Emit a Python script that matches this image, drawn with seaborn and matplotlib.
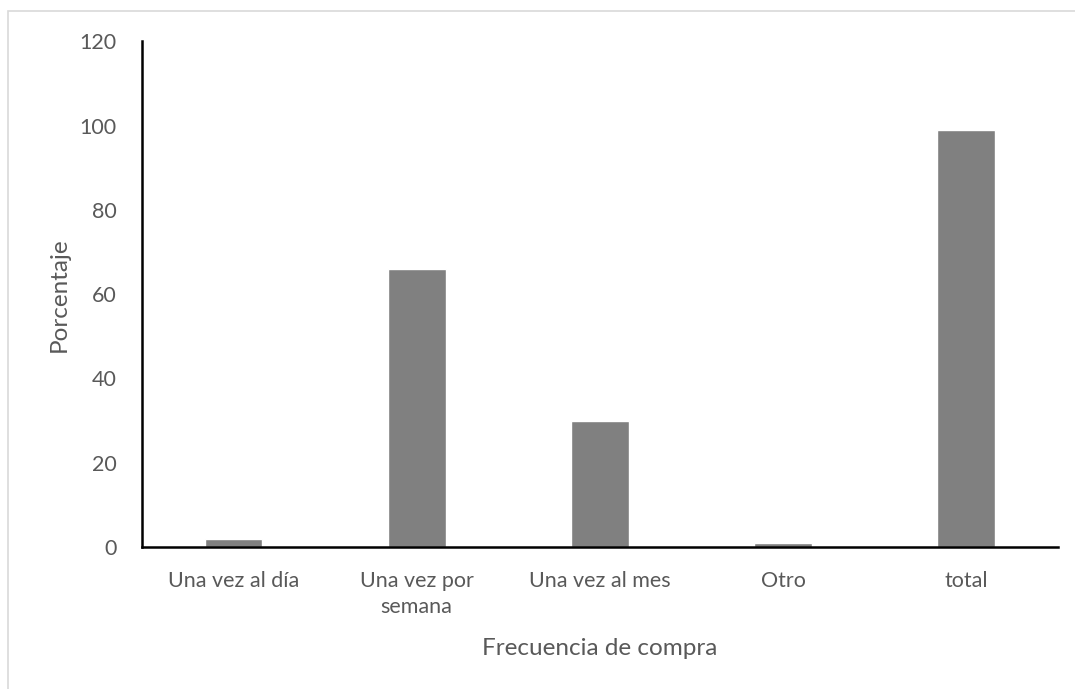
import matplotlib
matplotlib.use("Agg")
import matplotlib.pyplot as plt
import seaborn as sns
import pandas as pd
from matplotlib.patches import Rectangle

categorias = ["Una vez al día", "Una vez por\nsemana", "Una vez al mes", "Otro", "total"]
porcentajes = [2, 66, 30, 1, 99]
yticks = [0, 20, 40, 60, 80, 100, 120]

sns.set_theme(style="white")
plt.rcParams["font.family"] = ["Lato", "DejaVu Sans"]

df = pd.DataFrame({"Frecuencia de compra": categorias, "Porcentaje": porcentajes})

fig = plt.figure(figsize=(10.75, 6.89), dpi=100)
ax = fig.add_axes([0.132, 0.206, 0.852, 0.734])

sns.barplot(data=df, x="Frecuencia de compra", y="Porcentaje", color="#808080",
            saturation=1, width=0.315, ax=ax)

text_color = "#595959"
ax.set_ylim(0, 120)
ax.set_yticks(yticks)
ax.set_yticklabels([str(t) for t in yticks])
ax.tick_params(axis="both", colors=text_color, labelsize=15.5, length=0)
ax.tick_params(axis="y", pad=18)
ax.tick_params(axis="x", pad=17)
for lbl in ax.get_xticklabels():
    lbl.set_linespacing(1.4)

ax.set_xlabel("Frecuencia de compra", color=text_color, fontsize=17.5, labelpad=15)
ax.set_ylabel("Porcentaje", color=text_color, fontsize=17.5, labelpad=7)

for side in ["top", "right"]:
    ax.spines[side].set_visible(False)
for side in ["left", "bottom"]:
    ax.spines[side].set_color("black")
    ax.spines[side].set_linewidth(1.8)

# chart-area border
fig.patches.append(Rectangle((8 / 1075, -0.02), 1.05, 1 - 11 / 689 + 0.02,
                             transform=fig.transFigure, fill=False,
                             edgecolor="#d9d9d9", linewidth=1.2))

fig.savefig("out.png", dpi=100)
